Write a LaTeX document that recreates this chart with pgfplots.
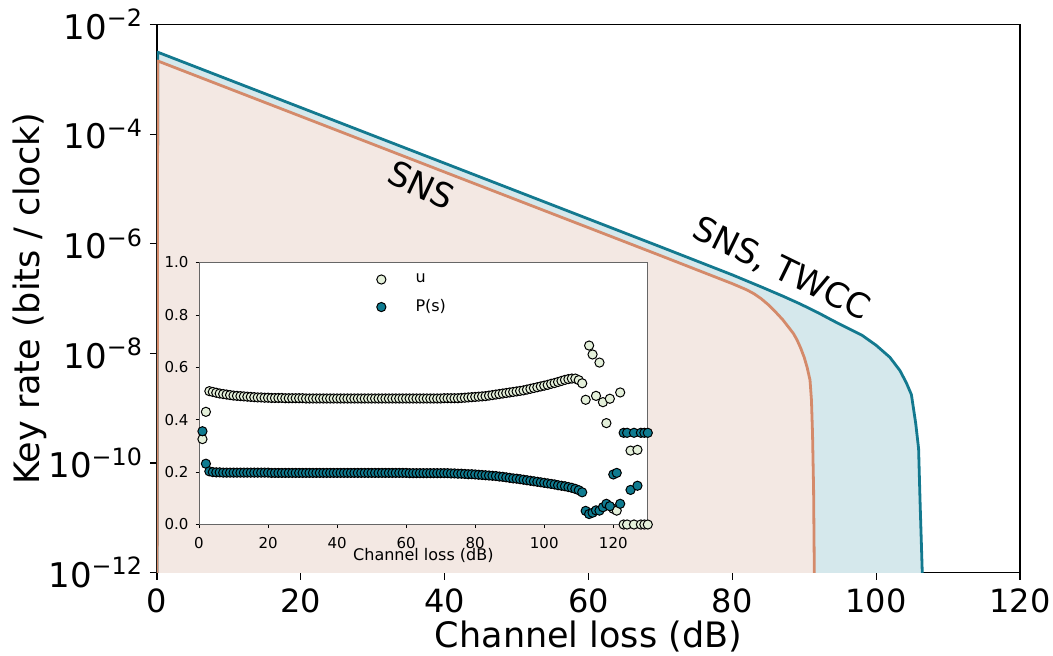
\documentclass[border=0pt]{standalone}
\usepackage{fontspec}
\setmainfont{DejaVu Sans}
\usepackage{pgfplots}
\usepackage{pgfplotstable}
\pgfplotsset{compat=1.18}
\definecolor{teal1}{HTML}{13798F}
\definecolor{orange1}{HTML}{D48A6A}
\definecolor{tealfill}{HTML}{D5E8EC}
\definecolor{orangefill}{HTML}{F3E8E3}
\definecolor{ufill}{HTML}{E4F0DA}
\definecolor{psfill}{HTML}{0F7B90}
\pgfplotsset{
  ulegend/.style={legend image code/.code={\path[draw=none,fill=none] (0cm,0cm) rectangle (0.83cm,0.01cm); \path[draw=black, fill=ufill, line width=0.5pt] (0.3cm,0cm) circle[radius=2.3pt];}},
  plegend/.style={legend image code/.code={\path[draw=none,fill=none] (0cm,0cm) rectangle (0.83cm,0.01cm); \path[draw=black, fill=psfill, line width=0.5pt] (0.3cm,0cm) circle[radius=2.3pt];}},
}

\pgfplotstableread{
x y
0 1e-13
0.1 3.126e-3
10 9.82e-4
20 3.05e-4
30 9.46e-5
40 2.94e-5
50 9.12e-6
60 2.83e-6
70 8.79e-7
80 2.70e-7
84 1.633e-7
87 1.109e-7
89.4 8.0e-8
92 5.44e-8
94 3.94e-8
96 2.90e-8
98 2.15e-8
100 1.40e-8
101.9 8.47e-9
103.3 4.86e-9
104.2 2.89e-9
104.9 1.76e-9
105.5 5.25e-10
105.9 1.82e-10
106.1 2.04e-11
106.4 1.10e-12
106.5 1e-13
}\twcc

\pgfplotstableread{
x y
0 1e-13
0.1 2.163e-3
10 6.79e-4
20 2.11e-4
30 6.55e-5
40 2.03e-5
50 6.31e-6
60 1.96e-6
70 6.08e-7
80 1.866e-7
82 1.442e-7
83 1.225e-7
84 9.95e-8
85 7.71e-8
86 5.70e-8
87 4.12e-8
88 2.79e-8
88.5 2.29e-8
89 1.75e-8
89.5 1.25e-8
90 8.38e-9
90.4 5.53e-9
90.8 3.25e-9
91.0 1.41e-9
91.15 3.47e-10
91.3 3.16e-11
91.4 1e-12
91.45 1e-13
}\sns

\pgfplotstableread{
x u
1 0.326
2 0.430
3 0.509
4 0.506
5 0.503
6 0.500
7 0.498
8 0.496
9 0.494
10 0.492
11 0.491
12 0.490
13 0.489
14 0.488
15 0.487
16 0.486
17 0.485
18 0.485
19 0.484
20 0.484
21 0.483
22 0.483
23 0.483
24 0.483
25 0.482
26 0.482
27 0.482
28 0.482
29 0.482
30 0.482
31 0.481
32 0.481
33 0.481
34 0.481
35 0.481
36 0.481
37 0.481
38 0.481
39 0.481
40 0.481
41 0.481
42 0.481
43 0.481
44 0.481
45 0.481
46 0.481
47 0.481
48 0.481
49 0.481
50 0.481
51 0.481
52 0.481
53 0.481
54 0.481
55 0.481
56 0.481
57 0.481
58 0.481
59 0.481
60 0.481
61 0.481
62 0.481
63 0.481
64 0.481
65 0.481
66 0.481
67 0.481
68 0.481
69 0.481
70 0.481
71 0.482
72 0.482
73 0.482
74 0.482
75 0.482
76 0.483
77 0.484
78 0.485
79 0.486
80 0.487
81 0.488
82 0.489
83 0.490
84 0.492
85 0.494
86 0.496
87 0.498
88 0.500
89 0.502
90 0.504
91 0.506
92 0.508
93 0.510
94 0.512
95 0.515
96 0.518
97 0.521
98 0.524
99 0.527
100 0.530
101 0.533
102 0.537
103 0.540
104 0.544
105 0.548
106 0.552
107 0.555
108 0.557
109 0.557
110 0.551
111 0.539
112 0.476
113 0.683
114 0.649
115 0.491
116 0.618
117 0.467
118 0.387
119 0.480
120 0.060
121 0.053
122 0.504
123 0
124 0
125 0.282
126 0
127 0.285
128 0
129 0
130 0
}\udata

\pgfplotstableread{
x p
1 0.356
2 0.232
3 0.203
4 0.200
5 0.199
6 0.199
7 0.198
8 0.198
9 0.198
10 0.198
11 0.198
12 0.198
13 0.198
14 0.198
15 0.198
16 0.198
17 0.198
18 0.198
19 0.198
20 0.198
21 0.197
22 0.197
23 0.197
24 0.197
25 0.197
26 0.197
27 0.197
28 0.197
29 0.197
30 0.197
31 0.197
32 0.197
33 0.197
34 0.197
35 0.197
36 0.197
37 0.197
38 0.197
39 0.197
40 0.197
41 0.197
42 0.197
43 0.197
44 0.197
45 0.197
46 0.197
47 0.197
48 0.197
49 0.197
50 0.197
51 0.197
52 0.197
53 0.197
54 0.197
55 0.197
56 0.197
57 0.197
58 0.197
59 0.197
60 0.197
61 0.196
62 0.196
63 0.196
64 0.196
65 0.196
66 0.196
67 0.196
68 0.196
69 0.196
70 0.196
71 0.196
72 0.196
73 0.195
74 0.195
75 0.194
76 0.194
77 0.193
78 0.192
79 0.192
80 0.191
81 0.190
82 0.189
83 0.188
84 0.187
85 0.186
86 0.185
87 0.183
88 0.182
89 0.180
90 0.178
91 0.176
92 0.175
93 0.173
94 0.171
95 0.169
96 0.167
97 0.165
98 0.163
99 0.161
100 0.159
101 0.157
102 0.155
103 0.153
104 0.150
105 0.148
106 0.146
107 0.143
108 0.140
109 0.136
110 0.131
111 0.123
112 0.052
113 0.040
114 0.045
115 0.054
116 0.053
117 0.066
118 0.079
119 0.070
120 0.191
121 0.197
122 0.079
123 0.350
124 0.350
125 0.132
126 0.350
127 0.148
128 0.350
129 0.350
130 0.350
}\pdata

\begin{document}
\begin{tikzpicture}
\begin{axis}[
  name=main, at={(0,0)}, anchor=south west,
  scale only axis, width=431.5pt, height=274pt,
  xmin=0, xmax=120, ymin=1e-12, ymax=1e-2, ymode=log,
  xtick={0,20,...,120},
  ytick={1e-12,1e-10,1e-8,1e-6,1e-4,1e-2},
  yticklabels={10\textsuperscript{−12},10\textsuperscript{−10},10\textsuperscript{−8},10\textsuperscript{−6},10\textsuperscript{−4},10\textsuperscript{−2}},
  yminorticks=false, xminorticks=false,
  tick align=outside, tick pos=left,
  major tick length=3.5pt,
  tick style={black, line width=0.6pt},
  axis line style={black, line width=0.6pt},
  /pgf/number format/assume math mode=true,
  xticklabel style={font=\fontsize{16}{18}\selectfont, yshift=-1pt},
  yticklabel style={font=\fontsize{17}{19}\selectfont},
  xlabel={Channel loss (dB)}, ylabel={Key rate (bits / clock)},
  xlabel style={font=\fontsize{17.5}{20}\selectfont, at={(axis description cs:0.5,0)}, anchor=center, yshift=-32pt},
  ylabel style={font=\fontsize{17.5}{20}\selectfont, at={(axis description cs:-0.147,0.5)}, anchor=center},
]
\addplot[draw=none, fill=tealfill] table[x=x,y=y] {\twcc};
\addplot[draw=none, fill=orangefill] table[x=x,y=y] {\sns};
\addplot[teal1, line width=1.4pt, line join=round] table[x=x,y=y] {\twcc};
\addplot[orange1, line width=1.4pt, line join=round] table[x=x,y=y] {\sns};
\node[rotate=-25, font=\fontsize{17}{19}\selectfont] at (axis cs:36.8,1.17e-5) {SNS};
\node[rotate=-26, font=\fontsize{17}{19}\selectfont] at (axis cs:86.8,3.4e-7) {SNS, TWCC};
\end{axis}
\begin{axis}[
  name=inset, at={(21pt,24pt)}, anchor=south west,
  scale only axis, width=224.4pt, height=131pt,
  xmin=0, xmax=130, ymin=0, ymax=1,
  xtick={0,20,...,120}, ytick={0,0.2,0.4,0.6,0.8,1.0},
  axis background/.style={fill=white},
  axis line style={black!60, line width=0.5pt},
  tick style={black, line width=0.4pt},
  major tick length=1.75pt,
  tick align=outside, tick pos=left,
  /pgf/number format/assume math mode=true,
  ticklabel style={font=\fontsize{7.5}{9}\selectfont},
  yticklabel style={/pgf/number format/.cd, fixed, fixed zerofill, precision=1},
  xticklabel style={yshift=-1pt},
  xlabel={Channel loss (dB)},
  xlabel style={font=\fontsize{8}{9}\selectfont, at={(axis description cs:0.5,0)}, anchor=center, yshift=-15.5pt},
  legend style={draw=none, fill=none, at={(0.354,0.99)}, anchor=north west, font=\fontsize{8}{10}\selectfont, row sep=3pt},
  legend cell align=left,
]
\addplot[only marks, mark=*, mark size=2.3pt, mark options={fill=ufill, draw=black, line width=0.5pt}, ulegend] table[x=x,y=u] {\udata};
\addlegendentry{u}
\addplot[only marks, mark=*, mark size=2.3pt, mark options={fill=psfill, draw=black, line width=0.5pt}, plegend] table[x=x,y=p] {\pdata};
\addlegendentry{P(s)}
\end{axis}
\pgfresetboundingbox
\path[use as bounding box] (-78.5pt,-41.5pt) rectangle (448pt,286.25pt);
\end{tikzpicture}
\end{document}
